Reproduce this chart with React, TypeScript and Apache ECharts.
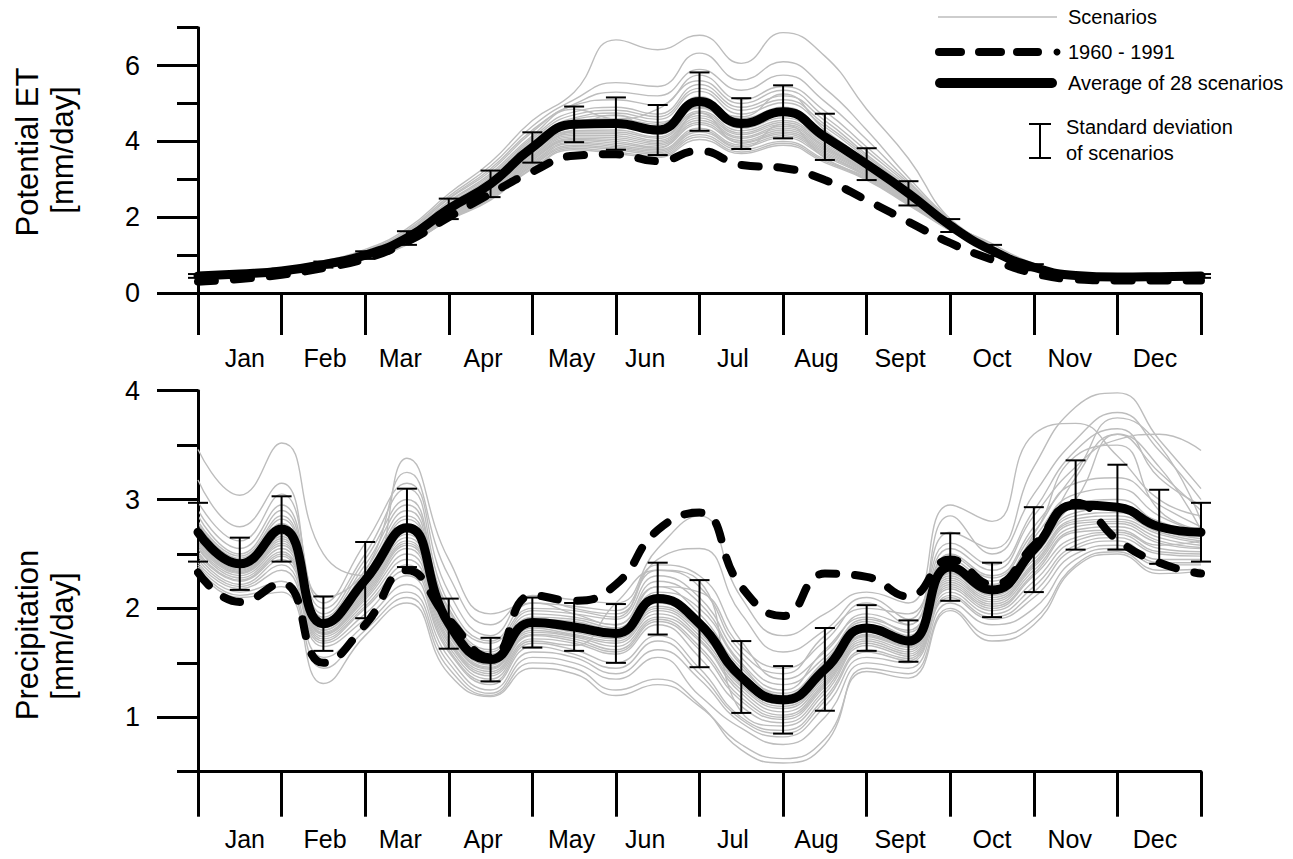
import React, { useEffect, useRef } from "react";
import * as echarts from "echarts";

const MONTHS = ["Jan", "Feb", "Mar", "Apr", "May", "Jun", "Jul", "Aug", "Sept", "Oct", "Nov", "Dec"];
const MONTH_LABEL_POS = [0.56, 1.52, 2.42, 3.41, 4.47, 5.35, 6.4, 7.4, 8.4, 9.5, 10.43, 11.45];
const MONTH_TICKS = [0, 1, 2, 3, 4, 5, 6, 7, 8, 9, 10, 11, 12];
const HALF_MONTHS = [0, 0.5, 1, 1.5, 2, 2.5, 3, 3.5, 4, 4.5, 5, 5.5, 6, 6.5, 7, 7.5, 8, 8.5, 9, 9.5, 10, 10.5, 11, 11.5, 12];

const PET_MAJOR = [0, 2, 4, 6];
const PET_MINOR = [1, 3, 5, 7];
const PR_MAJOR = [1, 2, 3, 4];
const PR_MINOR = [0.5, 1.5, 2.5, 3.5];

// Potential ET
const PET_MEAN = [0.45, 0.5, 0.58, 0.75, 1.0, 1.45, 2.22, 2.88, 3.84, 4.45, 4.47, 4.3, 5.05, 4.47, 4.78, 4.12, 3.4, 2.63, 1.78, 1.12, 0.68, 0.46, 0.42, 0.43, 0.45];
const PET_STD = [0.05, 0.05, 0.06, 0.08, 0.1, 0.18, 0.27, 0.35, 0.4, 0.47, 0.69, 0.66, 0.77, 0.67, 0.7, 0.61, 0.42, 0.32, 0.17, 0.15, 0.08, 0.05, 0.06, 0.05, 0.05];
const PET_BASE = [0.3, 0.37, 0.48, 0.66, 0.9, 1.35, 2.0, 2.62, 3.2, 3.62, 3.66, 3.48, 3.75, 3.38, 3.3, 2.98, 2.45, 1.88, 1.32, 0.88, 0.52, 0.36, 0.33, 0.33, 0.33];
const PET_SCENARIOS = [
  [0.5, 0.56, 0.66, 0.85, 1.15, 1.7, 2.62, 3.45, 4.55, 5.3, 6.68, 6.42, 6.8, 6.06, 6.87, 6.25, 4.85, 3.55, 1.95, 1.3, 0.78, 0.5, 0.47, 0.5, 0.48],
  [0.49, 0.55, 0.64, 0.83, 1.12, 1.65, 2.55, 3.35, 4.4, 5.1, 5.55, 5.45, 6.33, 5.62, 6.1, 5.4, 4.3, 3.05, 1.95, 1.25, 0.74, 0.49, 0.46, 0.48, 0.47],
  [0.48, 0.54, 0.63, 0.82, 1.1, 1.62, 2.5, 3.28, 4.3, 4.98, 5.3, 5.2, 5.9, 5.35, 5.75, 5.05, 4.05, 2.95, 1.92, 1.22, 0.72, 0.48, 0.45, 0.47, 0.46],
  [0.47, 0.53, 0.62, 0.8, 1.08, 1.6, 2.48, 3.22, 4.25, 4.95, 5.1, 4.95, 5.75, 5.1, 5.45, 4.8, 3.85, 2.9, 1.9, 1.2, 0.71, 0.47, 0.44, 0.46, 0.46],
  [0.48, 0.53, 0.61, 0.79, 1.06, 1.56, 2.42, 3.15, 4.15, 4.85, 4.6, 4.85, 5.6, 5.0, 5.35, 4.65, 3.75, 2.85, 1.88, 1.18, 0.7, 0.47, 0.44, 0.45, 0.46],
  [0.46, 0.52, 0.6, 0.78, 1.05, 1.55, 2.4, 3.1, 4.1, 4.78, 4.9, 4.72, 5.5, 4.9, 5.2, 4.55, 3.65, 2.8, 1.86, 1.17, 0.7, 0.47, 0.43, 0.45, 0.45],
  [0.47, 0.52, 0.6, 0.77, 1.03, 1.52, 2.35, 3.05, 4.05, 4.7, 4.82, 4.65, 5.4, 4.82, 5.1, 4.45, 3.6, 2.75, 1.84, 1.16, 0.69, 0.46, 0.43, 0.44, 0.46],
  [0.46, 0.51, 0.59, 0.77, 1.02, 1.5, 2.32, 3.0, 4.0, 4.62, 4.75, 4.58, 5.32, 4.72, 5.02, 4.38, 3.55, 2.72, 1.82, 1.15, 0.69, 0.46, 0.43, 0.44, 0.45],
  [0.45, 0.51, 0.59, 0.76, 1.01, 1.48, 2.28, 2.96, 3.95, 4.58, 4.68, 4.5, 4.9, 4.65, 5.25, 4.3, 3.5, 2.7, 1.8, 1.14, 0.68, 0.46, 0.42, 0.44, 0.45],
  [0.46, 0.5, 0.58, 0.76, 1.0, 1.46, 2.25, 2.92, 3.9, 4.52, 4.6, 4.45, 5.18, 4.6, 4.9, 4.25, 3.48, 2.68, 1.79, 1.13, 0.68, 0.46, 0.42, 0.43, 0.45],
  [0.45, 0.5, 0.58, 0.75, 1.0, 1.45, 2.22, 2.88, 3.85, 4.45, 4.55, 4.38, 5.1, 4.52, 4.82, 4.18, 3.44, 2.65, 1.78, 1.12, 0.68, 0.46, 0.42, 0.43, 0.44],
  [0.44, 0.5, 0.57, 0.75, 0.99, 1.44, 2.2, 2.85, 3.82, 4.4, 4.48, 4.3, 5.02, 4.45, 4.75, 4.12, 3.4, 2.62, 1.77, 1.12, 0.67, 0.45, 0.42, 0.43, 0.45],
  [0.45, 0.49, 0.57, 0.74, 0.98, 1.42, 2.18, 2.82, 3.78, 4.36, 4.42, 4.25, 4.95, 4.4, 4.7, 4.08, 3.36, 2.6, 1.76, 1.11, 0.67, 0.45, 0.41, 0.42, 0.44],
  [0.44, 0.49, 0.57, 0.74, 0.98, 1.41, 2.15, 2.8, 3.75, 4.32, 4.7, 4.18, 4.88, 4.35, 4.62, 4.02, 3.32, 2.58, 1.75, 1.1, 0.67, 0.45, 0.41, 0.42, 0.44],
  [0.45, 0.49, 0.56, 0.73, 0.97, 1.4, 2.13, 2.78, 3.72, 4.28, 4.3, 4.12, 4.8, 4.28, 4.55, 3.98, 3.3, 2.56, 1.74, 1.1, 0.66, 0.45, 0.41, 0.42, 0.44],
  [0.44, 0.48, 0.56, 0.73, 0.96, 1.39, 2.12, 2.75, 3.7, 4.25, 4.25, 4.08, 4.75, 4.22, 4.5, 3.93, 3.27, 2.55, 1.74, 1.09, 0.66, 0.45, 0.41, 0.42, 0.43],
  [0.44, 0.48, 0.56, 0.72, 0.96, 1.38, 2.1, 2.72, 3.66, 4.2, 4.2, 4.02, 4.68, 4.18, 4.45, 3.88, 3.24, 2.53, 1.73, 1.09, 0.66, 0.44, 0.41, 0.41, 0.44],
  [0.43, 0.48, 0.55, 0.72, 0.95, 1.37, 2.08, 2.7, 3.62, 4.16, 4.15, 3.98, 4.62, 4.12, 4.4, 3.84, 3.22, 2.52, 1.72, 1.08, 0.66, 0.44, 0.4, 0.41, 0.43],
  [0.44, 0.48, 0.55, 0.71, 0.95, 1.36, 2.06, 2.68, 3.6, 4.12, 4.1, 3.94, 4.56, 4.08, 4.35, 3.8, 3.2, 2.5, 1.72, 1.08, 0.65, 0.44, 0.4, 0.41, 0.43],
  [0.43, 0.47, 0.55, 0.71, 0.94, 1.35, 2.05, 2.65, 3.56, 4.08, 4.05, 3.9, 4.5, 4.02, 4.3, 3.76, 3.18, 2.48, 1.71, 1.07, 0.65, 0.44, 0.4, 0.41, 0.43],
  [0.43, 0.47, 0.54, 0.71, 0.94, 1.34, 2.03, 2.62, 3.52, 4.05, 4.0, 3.85, 4.45, 3.98, 4.25, 3.72, 3.15, 2.46, 1.7, 1.07, 0.65, 0.44, 0.4, 0.41, 0.42],
  [0.43, 0.47, 0.54, 0.7, 0.93, 1.33, 2.02, 2.6, 3.5, 4.02, 3.95, 3.82, 4.75, 3.95, 4.2, 3.68, 3.12, 2.44, 1.7, 1.06, 0.65, 0.44, 0.4, 0.4, 0.42],
  [0.42, 0.47, 0.54, 0.7, 0.93, 1.32, 2.0, 2.58, 3.46, 3.98, 3.9, 3.78, 4.35, 3.9, 4.15, 3.64, 3.1, 2.42, 1.69, 1.06, 0.64, 0.43, 0.4, 0.4, 0.42],
  [0.43, 0.46, 0.53, 0.7, 0.92, 1.31, 1.98, 2.55, 3.42, 3.95, 3.86, 3.74, 4.3, 3.86, 4.1, 3.6, 3.08, 2.4, 1.68, 1.05, 0.64, 0.43, 0.39, 0.4, 0.42],
  [0.42, 0.46, 0.53, 0.69, 0.92, 1.3, 1.97, 2.52, 3.38, 3.9, 3.82, 3.7, 4.25, 3.82, 4.45, 3.56, 3.05, 2.38, 1.67, 1.05, 0.64, 0.43, 0.39, 0.4, 0.41],
  [0.42, 0.46, 0.53, 0.69, 0.91, 1.29, 1.95, 2.5, 3.35, 3.86, 3.78, 3.66, 4.18, 3.78, 4.0, 3.52, 3.02, 2.36, 1.66, 1.04, 0.63, 0.43, 0.39, 0.39, 0.41],
  [0.41, 0.45, 0.52, 0.68, 0.9, 1.28, 1.93, 2.48, 3.3, 3.82, 3.72, 3.62, 4.12, 3.72, 3.95, 3.48, 3.0, 2.34, 1.65, 1.04, 0.63, 0.42, 0.39, 0.39, 0.41],
  [0.41, 0.45, 0.52, 0.68, 0.9, 1.27, 1.92, 2.45, 3.28, 3.78, 3.68, 3.58, 4.05, 3.68, 3.9, 3.44, 2.98, 2.32, 1.64, 1.03, 0.63, 0.42, 0.38, 0.39, 0.4],
];

// Precipitation
const PR_MEAN = [2.7, 2.41, 2.73, 1.86, 2.26, 2.74, 1.86, 1.53, 1.87, 1.83, 1.77, 2.09, 1.86, 1.37, 1.16, 1.44, 1.82, 1.7, 2.38, 2.17, 2.54, 2.95, 2.93, 2.75, 2.7];
const PR_STD = [0.27, 0.24, 0.3, 0.25, 0.35, 0.36, 0.23, 0.2, 0.23, 0.22, 0.27, 0.33, 0.4, 0.33, 0.31, 0.38, 0.21, 0.19, 0.31, 0.25, 0.39, 0.41, 0.39, 0.34, 0.27];
const PR_BASE = [2.33, 2.06, 2.23, 1.5, 1.85, 2.35, 1.9, 1.55, 2.12, 2.07, 2.22, 2.72, 2.88, 2.2, 1.93, 2.32, 2.29, 2.11, 2.45, 2.22, 2.58, 2.97, 2.63, 2.42, 2.32];
const PR_SCENARIOS = [
  [3.46, 3.04, 3.52, 2.5, 2.3, 3.38, 2.45, 1.95, 2.05, 1.95, 1.85, 2.2, 2.15, 1.65, 1.45, 1.7, 2.05, 1.85, 2.7, 2.55, 3.3, 3.85, 3.98, 3.55, 3.1],
  [3.18, 2.75, 3.15, 2.1, 2.35, 3.25, 2.3, 1.85, 2.1, 2.0, 1.95, 2.45, 2.55, 1.95, 1.6, 1.8, 2.1, 1.9, 2.85, 2.5, 3.05, 3.55, 3.8, 3.45, 3.0],
  [2.98, 2.62, 3.05, 2.05, 2.6, 3.15, 2.15, 1.75, 2.12, 2.08, 2.05, 2.55, 2.85, 2.1, 1.75, 1.95, 2.15, 2.05, 2.95, 2.8, 3.6, 3.7, 3.4, 3.0, 2.85],
  [2.9, 2.55, 2.95, 2.0, 2.5, 3.1, 2.05, 1.7, 2.05, 2.02, 1.98, 2.35, 2.2, 1.6, 1.4, 1.75, 2.0, 1.95, 2.6, 2.4, 2.9, 3.45, 3.65, 3.2, 2.95],
  [2.85, 2.5, 2.9, 1.95, 2.45, 3.0, 2.0, 1.68, 2.0, 1.98, 1.92, 2.4, 2.3, 1.7, 1.35, 1.6, 1.95, 1.85, 2.55, 2.35, 2.85, 3.3, 3.55, 3.6, 3.45],
  [2.8, 2.48, 2.85, 1.92, 2.4, 2.95, 1.98, 1.62, 1.98, 1.95, 1.9, 2.3, 2.1, 1.55, 1.3, 1.55, 1.9, 1.8, 2.5, 2.3, 2.75, 3.25, 3.75, 3.5, 2.8],
  [2.78, 2.46, 2.82, 1.9, 2.35, 2.9, 1.95, 1.6, 1.95, 1.92, 1.85, 2.25, 2.05, 1.5, 1.25, 1.62, 1.92, 1.78, 2.48, 2.28, 2.7, 3.15, 3.2, 2.95, 2.75],
  [2.75, 2.44, 2.78, 1.9, 2.32, 2.85, 1.92, 1.58, 1.92, 1.9, 1.82, 2.2, 1.95, 1.45, 1.22, 1.52, 1.88, 1.75, 2.45, 2.25, 2.68, 3.4, 3.5, 2.9, 2.72],
  [2.74, 2.43, 2.76, 1.88, 2.3, 2.82, 1.9, 1.56, 1.9, 1.88, 1.8, 2.15, 2.0, 1.48, 1.2, 1.5, 1.85, 1.74, 2.42, 2.22, 2.65, 3.05, 3.1, 2.85, 2.7],
  [2.72, 2.42, 2.74, 1.87, 2.28, 2.78, 1.88, 1.55, 1.9, 1.86, 1.8, 2.12, 1.9, 1.42, 1.18, 1.48, 1.84, 1.72, 2.4, 2.2, 2.6, 3.0, 3.6, 3.25, 2.9],
  [2.7, 2.4, 2.72, 1.86, 2.26, 2.75, 1.86, 1.53, 1.88, 1.84, 1.78, 2.1, 1.88, 1.4, 1.17, 1.46, 1.83, 1.71, 2.38, 2.18, 2.56, 2.96, 3.0, 2.78, 2.68],
  [2.68, 2.38, 2.7, 1.85, 2.24, 2.72, 1.85, 1.52, 1.87, 1.82, 1.76, 2.08, 1.85, 1.36, 1.15, 1.44, 1.81, 1.7, 2.36, 2.16, 2.52, 3.2, 3.6, 3.3, 2.72],
  [2.66, 2.37, 2.68, 1.84, 2.22, 2.7, 1.84, 1.51, 1.86, 1.81, 1.75, 2.05, 1.82, 1.34, 1.13, 1.42, 1.8, 1.69, 2.35, 2.15, 2.5, 2.88, 2.92, 2.8, 2.66],
  [2.65, 2.36, 2.66, 1.83, 2.2, 2.68, 1.82, 1.5, 1.85, 1.8, 1.74, 2.02, 1.8, 1.32, 1.12, 1.4, 1.79, 1.68, 2.33, 2.13, 2.48, 2.85, 2.88, 2.72, 2.64],
  [2.63, 2.35, 2.64, 1.82, 2.18, 2.65, 1.8, 1.48, 1.84, 1.78, 1.72, 2.0, 1.78, 1.3, 1.1, 1.38, 1.78, 1.67, 2.32, 2.12, 2.45, 2.82, 2.85, 2.7, 2.62],
  [2.62, 2.34, 2.62, 1.8, 2.16, 2.62, 1.78, 1.46, 1.82, 1.76, 1.7, 1.98, 1.75, 1.28, 1.08, 1.36, 1.76, 1.66, 2.3, 2.1, 2.42, 2.8, 2.82, 2.68, 2.6],
  [2.6, 2.33, 2.6, 1.8, 2.14, 2.6, 1.76, 1.45, 1.8, 1.75, 1.68, 1.95, 1.72, 1.25, 1.05, 1.34, 1.75, 1.65, 2.28, 2.08, 2.4, 2.78, 2.8, 2.65, 2.58],
  [2.58, 2.32, 2.58, 1.78, 2.12, 2.58, 1.75, 1.44, 1.78, 1.74, 1.65, 1.92, 1.7, 1.22, 1.02, 1.32, 1.74, 1.64, 2.26, 2.06, 2.38, 2.75, 2.78, 2.62, 2.56],
  [2.56, 2.3, 2.55, 1.77, 2.1, 2.55, 1.72, 1.42, 1.76, 1.72, 1.62, 1.9, 1.65, 1.18, 1.0, 1.3, 1.72, 1.62, 2.24, 2.04, 2.35, 2.72, 2.75, 2.6, 2.55],
  [2.55, 2.28, 2.52, 1.76, 2.08, 2.5, 1.7, 1.4, 1.75, 1.7, 1.6, 1.88, 1.62, 1.15, 0.98, 1.28, 1.7, 1.6, 2.22, 2.02, 2.32, 2.7, 2.72, 2.58, 2.62],
  [2.52, 2.26, 2.5, 1.74, 2.05, 2.45, 1.68, 1.38, 1.72, 1.68, 1.58, 1.85, 1.55, 1.1, 0.95, 1.25, 1.68, 1.58, 2.2, 2.0, 2.3, 2.65, 2.7, 2.55, 2.52],
  [2.5, 2.25, 2.48, 1.72, 2.02, 2.4, 1.65, 1.35, 1.7, 1.66, 2.05, 2.35, 2.25, 1.05, 0.92, 1.22, 1.66, 1.56, 2.18, 1.98, 2.25, 2.62, 2.68, 2.52, 2.5],
  [2.48, 2.22, 2.45, 1.7, 2.0, 2.35, 1.62, 1.32, 1.68, 1.62, 1.5, 1.75, 1.45, 1.0, 0.88, 1.18, 1.62, 1.54, 2.15, 1.95, 2.2, 2.58, 2.65, 2.5, 2.48],
  [2.45, 2.2, 2.4, 1.68, 1.95, 2.3, 1.6, 1.3, 1.65, 1.58, 1.45, 1.7, 1.4, 0.98, 0.85, 1.15, 1.6, 1.52, 2.12, 1.92, 2.15, 2.55, 2.62, 2.45, 2.45],
  [2.42, 2.18, 2.35, 1.65, 1.9, 2.22, 1.55, 1.25, 1.6, 1.55, 1.4, 1.62, 1.35, 0.95, 0.82, 1.1, 1.55, 1.5, 2.1, 1.9, 2.1, 2.5, 2.58, 2.42, 2.42],
  [2.4, 2.15, 2.25, 1.55, 1.85, 2.15, 1.5, 1.22, 1.55, 1.5, 1.35, 1.55, 1.2, 0.9, 0.75, 1.0, 1.5, 1.45, 2.05, 1.85, 2.0, 2.45, 2.55, 2.4, 2.4],
  [2.38, 2.12, 2.2, 1.45, 1.8, 2.1, 1.45, 1.2, 1.5, 1.45, 1.25, 1.35, 1.12, 0.7, 0.58, 0.75, 1.45, 1.4, 2.0, 1.75, 1.9, 2.4, 2.52, 2.35, 2.36],
  [2.35, 2.1, 2.15, 1.31, 1.75, 2.05, 1.4, 1.19, 1.45, 1.4, 1.2, 1.3, 1.1, 0.75, 0.62, 0.8, 1.42, 1.36, 1.98, 1.7, 1.85, 2.38, 2.5, 2.32, 2.34],
];

const FONT = "'Liberation Sans', Arial, sans-serif";
const GRAY = "#bdbdbd";

function pairs(vals: number[]) {
  return HALF_MONTHS.map((t, i) => [t, vals[i]]);
}

function errorData(mean: number[], std: number[]) {
  return HALF_MONTHS.map((t, i) => [t, mean[i] - std[i], mean[i] + std[i]]);
}

function renderErrorBar(params: any, api: any) {
  const x = api.value(0);
  const lo = api.coord([x, api.value(1)]);
  const hi = api.coord([x, api.value(2)]);
  const hw = 10;
  const st = { stroke: "#000", lineWidth: 2 };
  return {
    type: "group",
    children: [
      { type: "line", shape: { x1: hi[0], y1: hi[1], x2: lo[0], y2: lo[1] }, style: st },
      { type: "line", shape: { x1: hi[0] - hw, y1: hi[1], x2: hi[0] + hw, y2: hi[1] }, style: st },
      { type: "line", shape: { x1: lo[0] - hw, y1: lo[1], x2: lo[0] + hw, y2: lo[1] }, style: st },
    ],
  };
}

function xAxisFor(gridIndex: number, tickLen: number, margin: number) {
  return {
    type: "value",
    gridIndex,
    min: 0,
    max: 12,
    axisLine: { show: true, onZero: false, lineStyle: { color: "#000", width: 3 } },
    axisTick: { show: true, customValues: MONTH_TICKS, length: tickLen, lineStyle: { color: "#000", width: 3 } },
    axisLabel: {
      customValues: MONTH_LABEL_POS,
      margin,
      color: "#000",
      fontSize: 25,
      fontFamily: FONT,
      formatter: (v: number) => {
        let best = 0;
        for (let i = 0; i < MONTH_LABEL_POS.length; i++) {
          if (Math.abs(MONTH_LABEL_POS[i] - v) < Math.abs(MONTH_LABEL_POS[best] - v)) best = i;
        }
        return MONTHS[best];
      },
    },
    splitLine: { show: false },
  };
}

function yAxisFor(gridIndex: number, min: number, max: number, ticks: number[], len: number, showLine: boolean, showLabels: boolean) {
  return {
    type: "value",
    gridIndex,
    min,
    max,
    position: "left",
    offset: 0,
    axisLine: { show: showLine, onZero: false, lineStyle: { color: "#000", width: 3 } },
    axisTick: { show: true, customValues: ticks, length: len, lineStyle: { color: "#000", width: 3 } },
    axisLabel: {
      show: showLabels,
      customValues: ticks,
      margin: 58,
      color: "#000",
      fontSize: 27,
      fontFamily: FONT,
    },
    splitLine: { show: false },
  };
}

function panelSeries(scen: number[][], base: number[], mean: number[], std: number[], xi: number, yi: number) {
  const out: any[] = [];
  scen.forEach((s, k) => {
    out.push({
      type: "line",
      name: "scenario-" + xi + "-" + k,
      xAxisIndex: xi,
      yAxisIndex: yi,
      data: pairs(s),
      smooth: 0.5,
      symbol: "none",
      silent: true,
      lineStyle: { color: GRAY, width: 1.4 },
      z: 2,
    });
  });
  out.push({
    type: "line",
    xAxisIndex: xi,
    yAxisIndex: yi,
    data: pairs(base),
    smooth: 0.5,
    symbol: "none",
    lineStyle: { color: "#000", width: 8, type: [17, 19], cap: "round" },
    z: 3,
  });
  out.push({
    type: "line",
    xAxisIndex: xi,
    yAxisIndex: yi,
    data: pairs(mean),
    smooth: 0.5,
    symbol: "none",
    lineStyle: { color: "#000", width: 9, cap: "round" },
    z: 4,
  });
  out.push({
    type: "custom",
    xAxisIndex: xi,
    yAxisIndex: yi,
    data: errorData(mean, std),
    renderItem: renderErrorBar,
    clip: false,
    z: 5,
  });
  return out;
}

export default function App() {
  const ref = useRef<HTMLDivElement>(null);
  useEffect(() => {
    if (!ref.current) return;
    const chart = echarts.init(ref.current, null, { renderer: "svg" });
    const txt = (text: string, x: number, y: number, size: number, rot = 0) => ({
      type: "text",
      x,
      y,
      rotation: rot,
      style: { text, fill: "#000", fontSize: size, fontFamily: FONT, align: rot ? "center" : "left", verticalAlign: "middle" },
    });
    const ln = (x1: number, y1: number, x2: number, y2: number, stroke: string, lineWidth: number, cap = "butt") => ({
      type: "line",
      shape: { x1, y1, x2, y2 },
      style: { stroke, lineWidth, lineCap: cap },
    });
    chart.setOption({
      animation: false,
      backgroundColor: "#fff",
      grid: [
        { left: 198, right: 92, top: 27.7, bottom: 566 },
        { left: 198, right: 92, top: 390.7, bottom: 87.3 },
      ],
      xAxis: [xAxisFor(0, 42, 52), xAxisFor(1, 45, 55)],
      yAxis: [
        yAxisFor(0, 0, 7, PET_MAJOR, 41, true, true),
        yAxisFor(0, 0, 7, PET_MINOR, 21, false, false),
        yAxisFor(1, 0.5, 4, PR_MAJOR, 41, true, true),
        yAxisFor(1, 0.5, 4, PR_MINOR, 21, false, false),
      ],
      series: [
        ...panelSeries(PET_SCENARIOS, PET_BASE, PET_MEAN, PET_STD, 0, 0),
        ...panelSeries(PR_SCENARIOS, PR_BASE, PR_MEAN, PR_STD, 1, 2),
      ],
      graphic: [
        txt("Potential ET", 27, 152, 31, Math.PI / 2),
        txt("[mm/day]", 62, 150, 31, Math.PI / 2),
        txt("Precipitation", 27, 635, 31, Math.PI / 2),
        txt("[mm/day]", 62, 636, 31, Math.PI / 2),
        ln(938, 17, 1057, 17, GRAY, 1.5),
        txt("Scenarios", 1068, 17, 20),
        ln(939, 52, 961, 52, "#000", 8, "round"),
        ln(979, 52, 1001, 52, "#000", 8, "round"),
        ln(1017, 52, 1038, 52, "#000", 8, "round"),
        { type: "circle", shape: { cx: 1057, cy: 52, r: 3.5 }, style: { fill: "#000" } },
        txt("1960 - 1991", 1068, 52, 20),
        ln(940, 83, 1052, 83, "#000", 10, "round"),
        txt("Average of 28 scenarios", 1068, 83, 20),
        ln(1040, 124, 1040, 158, "#000", 2),
        ln(1029, 124, 1051, 124, "#000", 2),
        ln(1029, 158, 1051, 158, "#000", 2),
        txt("Standard deviation", 1066, 127, 20),
        txt("of scenarios", 1066, 153, 20),
      ],
    });
    return () => chart.dispose();
  }, []);
  return <div ref={ref} style={{ position: "absolute", left: 0, top: 0, width: 1293, height: 859 }} />;
}
